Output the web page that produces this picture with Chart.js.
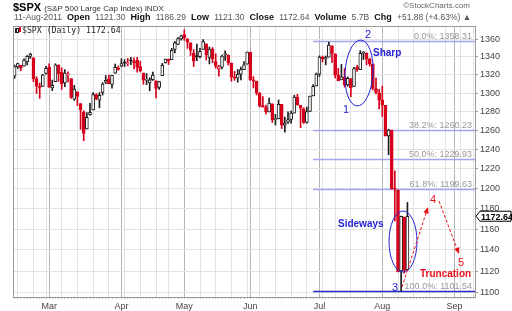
<!DOCTYPE html>
<html>
<head>
<meta charset="utf-8">
<script src="https://cdn.jsdelivr.net/npm/chart.js@4.4.1/dist/chart.umd.min.js"></script>
<style>
  html, body { margin: 0; padding: 0; background: #fff; }
  #wrap { width: 512px; height: 311px; }
</style>
</head>
<body>
<div id="wrap"><canvas id="chart" width="512" height="311"></canvas></div>
<script>
// trading days shown on the axis (data ends Aug 11, the rest is empty space)
const dates = [
  "2011-02-11","2011-02-14","2011-02-15","2011-02-16","2011-02-17","2011-02-18","2011-02-22","2011-02-23","2011-02-24","2011-02-25","2011-02-28",
  "2011-03-01","2011-03-02","2011-03-03","2011-03-04","2011-03-07","2011-03-08","2011-03-09","2011-03-10","2011-03-11","2011-03-14","2011-03-15","2011-03-16","2011-03-17","2011-03-18","2011-03-21","2011-03-22","2011-03-23","2011-03-24","2011-03-25","2011-03-28","2011-03-29","2011-03-30","2011-03-31",
  "2011-04-01","2011-04-04","2011-04-05","2011-04-06","2011-04-07","2011-04-08","2011-04-11","2011-04-12","2011-04-13","2011-04-14","2011-04-15","2011-04-18","2011-04-19","2011-04-20","2011-04-21","2011-04-25","2011-04-26","2011-04-27","2011-04-28","2011-04-29",
  "2011-05-02","2011-05-03","2011-05-04","2011-05-05","2011-05-06","2011-05-09","2011-05-10","2011-05-11","2011-05-12","2011-05-13","2011-05-16","2011-05-17","2011-05-18","2011-05-19","2011-05-20","2011-05-23","2011-05-24","2011-05-25","2011-05-26","2011-05-27","2011-05-31",
  "2011-06-01","2011-06-02","2011-06-03","2011-06-06","2011-06-07","2011-06-08","2011-06-09","2011-06-10","2011-06-13","2011-06-14","2011-06-15","2011-06-16","2011-06-17","2011-06-20","2011-06-21","2011-06-22","2011-06-23","2011-06-24","2011-06-27","2011-06-28","2011-06-29","2011-06-30",
  "2011-07-01","2011-07-05","2011-07-06","2011-07-07","2011-07-08","2011-07-11","2011-07-12","2011-07-13","2011-07-14","2011-07-15","2011-07-18","2011-07-19","2011-07-20","2011-07-21","2011-07-22","2011-07-25","2011-07-26","2011-07-27","2011-07-28","2011-07-29",
  "2011-08-01","2011-08-02","2011-08-03","2011-08-04","2011-08-05","2011-08-08","2011-08-09","2011-08-10","2011-08-11","2011-08-12","2011-08-15","2011-08-16","2011-08-17","2011-08-18","2011-08-19","2011-08-22","2011-08-23","2011-08-24","2011-08-25","2011-08-26","2011-08-29","2011-08-30","2011-08-31",
  "2011-09-01","2011-09-02","2011-09-06","2011-09-07","2011-09-08","2011-09-09","2011-09-12"
];

const opens = [
  1318.66,1328.73,1330.43,1329.51,1334.37,1340.38,1338.91,1315.44,1307.09,1307.34,1321.61,
  1328.64,1305.47,1312.37,1330.73,1322.72,1311.05,1319.92,1315.72,1293.43,1301.19,1288.46,1279.46,1261.61,1276.71,1281.65,1298.29,1292.19,1300.61,1311.80,1315.45,1309.37,1321.89,1327.44,
  1329.48,1333.56,1332.03,1335.94,1334.82,1336.16,1329.01,1321.96,1314.03,1311.13,1314.54,1313.35,1305.99,1319.12,1333.23,1337.14,1336.75,1348.43,1353.86,1360.14,
  1365.21,1359.76,1355.90,1344.16,1340.24,1340.20,1348.34,1354.51,1339.39,1348.69,1334.77,1326.10,1328.54,1342.40,1342.00,1333.07,1317.70,1316.36,1320.64,1325.69,1331.72,
  1345.20,1314.55,1312.94,1300.26,1286.31,1284.63,1279.63,1288.26,1271.31,1272.22,1287.87,1265.53,1268.58,1271.50,1278.40,1295.48,1286.60,1283.04,1268.44,1280.21,1296.85,1307.64,
  1320.64,1339.59,1337.56,1339.62,1352.39,1343.31,1319.61,1314.45,1317.74,1308.87,1315.94,1307.07,1328.66,1325.65,1343.80,1344.32,1337.39,1331.91,1304.84,1300.12,
  1292.59,1286.56,1254.25,1260.23,1200.28,1198.48,1120.23,1171.77,1121.30
];
const highs = [
  1330.79,1332.96,1330.43,1337.61,1341.50,1344.07,1338.91,1317.91,1310.91,1320.61,1329.38,
  1332.09,1314.19,1332.28,1331.08,1327.68,1325.74,1323.21,1315.72,1308.35,1301.19,1288.46,1280.91,1278.88,1288.88,1300.58,1299.35,1300.51,1311.34,1319.18,1319.74,1319.45,1331.74,1329.77,
  1337.85,1336.74,1338.21,1339.38,1338.80,1339.46,1335.11,1321.96,1321.35,1316.79,1322.88,1313.35,1312.70,1332.66,1337.49,1337.55,1349.55,1357.49,1361.71,1364.56,
  1370.58,1360.84,1355.90,1348.00,1354.36,1349.44,1359.44,1354.51,1351.05,1350.47,1343.33,1330.42,1341.82,1346.82,1342.00,1333.07,1323.72,1325.86,1328.51,1334.62,1345.20,
  1345.20,1318.03,1312.94,1300.26,1296.22,1287.04,1294.54,1288.26,1277.04,1292.50,1287.87,1274.11,1279.82,1280.42,1297.62,1298.61,1286.60,1283.93,1284.91,1296.80,1309.21,1321.97,
  1341.01,1340.89,1340.94,1356.48,1352.39,1343.31,1327.17,1331.48,1326.88,1317.70,1315.94,1328.14,1330.43,1347.00,1346.10,1344.32,1338.51,1331.91,1316.32,1304.16,
  1307.38,1286.56,1261.20,1260.23,1218.11,1198.48,1172.88,1171.77,1186.29
];
const lows = [
  1316.08,1326.90,1324.61,1329.51,1331.00,1338.12,1312.33,1299.55,1294.26,1307.34,1320.55,
  1306.14,1302.58,1312.37,1312.59,1303.99,1306.86,1312.27,1294.21,1291.99,1286.37,1261.12,1249.05,1261.61,1276.18,1281.65,1292.70,1284.05,1297.74,1310.15,1310.19,1305.26,1321.89,1325.03,
  1328.89,1329.10,1330.03,1331.09,1326.56,1322.94,1323.09,1309.51,1309.19,1302.42,1313.68,1294.70,1303.97,1319.12,1332.92,1331.47,1336.75,1344.25,1353.60,1358.69,
  1358.59,1349.52,1341.50,1329.17,1335.58,1338.64,1348.34,1336.36,1332.03,1333.36,1327.32,1318.51,1326.59,1336.03,1330.67,1312.88,1313.87,1311.80,1314.41,1325.69,1331.72,
  1313.71,1305.61,1297.90,1284.72,1284.74,1277.42,1279.63,1268.28,1265.64,1272.22,1261.90,1258.07,1267.40,1267.56,1278.40,1286.79,1262.87,1267.24,1267.53,1280.21,1296.85,1307.64,
  1318.18,1334.30,1330.92,1339.62,1333.71,1316.42,1313.33,1314.45,1306.51,1307.35,1295.92,1307.07,1323.65,1325.65,1336.95,1331.09,1329.59,1303.49,1299.16,1282.86,
  1274.73,1254.03,1234.56,1199.54,1168.09,1119.28,1101.54,1118.01,1121.30
];
const closes = [
  1329.15,1332.32,1328.01,1336.32,1340.43,1343.01,1315.44,1307.40,1306.10,1319.88,1327.22,
  1306.33,1308.44,1330.97,1321.15,1310.13,1321.82,1320.02,1295.11,1304.28,1296.39,1281.87,1256.88,1273.72,1279.21,1298.38,1293.77,1297.54,1309.66,1313.80,1310.19,1319.44,1328.26,1325.83,
  1332.41,1332.87,1332.63,1335.54,1333.51,1328.17,1324.46,1314.16,1314.41,1314.52,1319.68,1305.14,1312.62,1330.36,1337.38,1335.25,1347.24,1355.66,1360.48,1363.61,
  1361.22,1356.62,1347.32,1335.10,1340.20,1346.29,1357.16,1342.08,1348.65,1337.77,1329.47,1328.98,1340.68,1343.60,1333.27,1317.37,1316.28,1320.47,1325.69,1331.10,1345.20,
  1314.55,1312.94,1300.16,1286.17,1284.94,1279.56,1289.00,1270.98,1271.83,1287.87,1265.42,1267.64,1271.50,1278.36,1295.52,1287.14,1283.50,1268.45,1280.10,1296.67,1307.41,1320.64,
  1339.67,1337.88,1339.22,1353.22,1343.80,1319.49,1313.64,1317.72,1308.87,1316.14,1305.44,1326.73,1325.84,1343.80,1345.02,1337.43,1331.94,1304.89,1300.67,1292.28,
  1286.94,1254.05,1260.34,1200.07,1199.38,1119.46,1172.53,1120.76,1172.64
];

const monthNames = ["Jan","Feb","Mar","Apr","May","Jun","Jul","Aug","Sep","Oct","Nov","Dec"];
const yTicks = [1100,1120,1140,1160,1180,1200,1220,1240,1260,1280,1300,1320,1340,1360];

// fibonacci retracement levels
const fibLabels = ["0.0%","38.2%","50.0%","61.8%","100.0%"];
const fibValues = [1358.31,1260.23,1229.93,1199.63,1101.54];
const fibStart = "2011-06-29";

const lastClose = 1172.64;

const RED = "#d6001c";
const BLACK = "#1e1e1e";
const BLUE = "#2323d8";

// stockcharts style: colour by close vs previous close, hollow when close > open
const candleColor = closes.map((c, i) => (c >= (i ? closes[i - 1] : opens[i]) ? BLACK : RED));
const bodyFill = closes.map((c, i) => (c > opens[i] ? "#fff" : candleColor[i]));
const bodyData = dates.map((d, i) =>
  i < closes.length ? [Math.min(opens[i], closes[i]), Math.max(opens[i], closes[i])] : null
);
const wickData = dates.map((d, i) => (i < closes.length ? [lows[i], highs[i]] : null));

const dayInfo = dates.map((d, i) => {
  const dt = new Date(d + "T12:00:00Z");
  const prev = i ? new Date(dates[i - 1] + "T12:00:00Z") : null;
  return {
    month: dt.getUTCMonth(),
    monthStart: !!prev && dt.getUTCMonth() !== prev.getUTCMonth(),
    weekStart: !!prev && dt.getUTCDay() < prev.getUTCDay(),
  };
});

const drawText = (ctx, txt, x, y, font, color, align) => {
  ctx.font = font;
  ctx.fillStyle = color;
  ctx.textAlign = align || "left";
  ctx.textBaseline = "alphabetic";
  ctx.fillText(txt, x, y);
  return x + ctx.measureText(txt).width;
};

const arrow = (ctx, x1, y1, x2, y2, color) => {
  const ang = Math.atan2(y2 - y1, x2 - x1);
  ctx.save();
  ctx.strokeStyle = color;
  ctx.lineWidth = 1;
  ctx.setLineDash([3, 2]);
  ctx.beginPath();
  ctx.moveTo(x1, y1);
  ctx.lineTo(x2 - 5 * Math.cos(ang), y2 - 5 * Math.sin(ang));
  ctx.stroke();
  ctx.setLineDash([]);
  ctx.fillStyle = color;
  ctx.beginPath();
  ctx.moveTo(x2, y2);
  ctx.lineTo(x2 - 7 * Math.cos(ang - 0.4), y2 - 7 * Math.sin(ang - 0.4));
  ctx.lineTo(x2 - 7 * Math.cos(ang + 0.4), y2 - 7 * Math.sin(ang + 0.4));
  ctx.closePath();
  ctx.fill();
  ctx.restore();
};

const overlay = {
  id: "overlay",
  beforeDatasetsDraw(chart) {
    const { ctx, chartArea, scales } = chart;
    const x0 = scales.x.getPixelForValue(dates.indexOf(fibStart));
    ctx.save();
    fibValues.forEach((v, i) => {
      const y = Math.round(scales.y.getPixelForValue(v)) + 0.5;
      ctx.strokeStyle = i === fibValues.length - 1 ? "#2a2ac8" : "#a4a4f0";
      ctx.lineWidth = 1.5;
      ctx.beginPath();
      ctx.moveTo(x0, y);
      ctx.lineTo(chartArea.right, y);
      ctx.stroke();
      drawText(ctx, fibLabels[i] + ": " + v.toFixed(2), chartArea.right - 3, y - 2.5,
        "9px 'Liberation Sans', Arial", "#999", "right");
    });
    ctx.restore();
  },
  afterDatasetsDraw(chart) {
    const { ctx } = chart;
    ctx.save();
    ctx.strokeStyle = BLUE;
    ctx.lineWidth = 1;
    ctx.beginPath();
    ctx.ellipse(359, 73, 14, 33, 0.06, 0, Math.PI * 2);
    ctx.stroke();
    ctx.beginPath();
    ctx.ellipse(403, 241.5, 14, 30.5, 0, 0, Math.PI * 2);
    ctx.stroke();

    const num = "11px 'Liberation Sans', Arial";
    const lbl = "bold 10px 'Liberation Sans', Arial";
    drawText(ctx, "2", 365, 38, num, BLUE);
    drawText(ctx, "Sharp", 373, 56, lbl, BLUE);
    drawText(ctx, "1", 343, 113, num, BLUE);
    drawText(ctx, "Sideways", 338, 227, lbl, BLUE);
    drawText(ctx, "3", 392, 291, num, BLUE);

    arrow(ctx, 402, 287, 428, 207, "#e8101a");
    arrow(ctx, 439, 201, 459, 254, "#e8101a");
    drawText(ctx, "4", 430, 203, num, "#e8101a");
    drawText(ctx, "5", 458, 266, num, "#e8101a");
    drawText(ctx, "Truncation", 420, 277, lbl, "#e8101a");
    ctx.restore();
  },
  afterDraw(chart) {
    const { ctx, chartArea, scales } = chart;
    ctx.save();
    // plot frame
    ctx.strokeStyle = "#9a9a9a";
    ctx.lineWidth = 1;
    ctx.strokeRect(Math.round(chartArea.left) + 0.5, Math.round(chartArea.top) + 0.5,
      Math.round(chartArea.width), Math.round(chartArea.height));

    // title rows
    const F = "'Liberation Sans', Arial";
    let x = drawText(ctx, "$SPX", 13, 11, "bold 11px " + F, "#000");
    drawText(ctx, "(S&P 500 Large Cap Index) INDX", x + 3, 11, "8px " + F, "#333");
    drawText(ctx, "\u00A9StockCharts.com", 470, 8, "8px " + F, "#666", "right");

    const parts = [
      ["11-Aug-2011", false], ["Open", true], ["1121.30", false], ["High", true], ["1186.29", false],
      ["Low", true], ["1121.30", false], ["Close", true], ["1172.64", false], ["Volume", true],
      ["5.7B", false], ["Chg", true], ["+51.88 (+4.63%) \u25B2", false],
    ];
    x = 14;
    parts.forEach(([t, b]) => {
      x = drawText(ctx, t, x, 20, (b ? "bold 9px " : "8.5px ") + F, b ? "#111" : "#555") + 5.2;
    });

    // legend inside plot
    ctx.fillStyle = BLACK;
    ctx.fillRect(15, 28, 1, 5);
    ctx.strokeStyle = BLACK;
    ctx.strokeRect(16.5, 28.5, 2, 4);
    ctx.fillStyle = RED;
    ctx.fillRect(19, 27, 2, 5);
    drawText(ctx, "$SPX (Daily) 1172.64", 22, 33, "8.2px 'DejaVu Sans Mono', monospace", "#222");

    // last price tag
    const yl = scales.y.getPixelForValue(lastClose);
    const xr = chartArea.right + 1;
    ctx.beginPath();
    ctx.moveTo(xr, yl);
    ctx.lineTo(xr + 4, yl - 5);
    ctx.lineTo(511, yl - 5);
    ctx.lineTo(511, yl + 5);
    ctx.lineTo(xr + 4, yl + 5);
    ctx.closePath();
    ctx.fillStyle = "#fff";
    ctx.fill();
    ctx.strokeStyle = "#000";
    ctx.stroke();
    drawText(ctx, lastClose.toFixed(2), xr + 5, yl + 3.5, "bold 9px " + F, "#000");
    ctx.restore();
  },
};

Chart.defaults.font.family = "'Liberation Sans', Arial, sans-serif";

new Chart(document.getElementById("chart"), {
  type: "bar",
  data: {
    labels: dates,
    datasets: [
      {
        label: "body",
        data: bodyData,
        backgroundColor: bodyFill,
        borderColor: candleColor,
        borderWidth: 1,
        borderSkipped: false,
        barThickness: 3,
        minBarLength: 1,
        grouped: false,
      },
      {
        label: "wick",
        data: wickData,
        backgroundColor: candleColor,
        barThickness: 1,
        grouped: false,
      },
    ],
  },
  options: {
    responsive: false,
    animation: false,
    layout: { padding: { left: 13, top: 26, right: 0, bottom: 0 } },
    plugins: {
      legend: { display: false },
      tooltip: { enabled: false },
    },
    scales: {
      x: {
        offset: true,
        grid: {
          offset: false,
          color: (c) => {
            const d = dayInfo[c.index];
            if (!d) return "rgba(0,0,0,0)";
            if (d.monthStart) return "#b4b4b4";
            if (d.weekStart) return "#e2e2e2";
            return "rgba(0,0,0,0)";
          },
          tickLength: 2,
          tickColor: "#c4c4c4",
        },
        border: { color: "#9a9a9a" },
        ticks: {
          autoSkip: false,
          maxRotation: 0,
          padding: 2,
          color: "#444",
          font: { size: 9 },
          callback: (v, i) => (dayInfo[i].monthStart ? monthNames[dayInfo[i].month] : ""),
        },
        afterFit: (s) => {
          s.height = 14;
        },
      },
      y: {
        type: "logarithmic",
        position: "right",
        min: 1096,
        max: 1375,
        afterBuildTicks: (s) => {
          s.ticks = yTicks.map((v) => ({ value: v }));
        },
        grid: { color: "#e2e2e2", tickLength: 3, tickColor: "#9a9a9a" },
        border: { color: "#9a9a9a" },
        ticks: {
          padding: 2,
          color: "#444",
          font: { size: 9 },
          callback: (v) => String(v),
        },
        afterFit: (s) => {
          s.width = 37;
        },
      },
    },
  },
  plugins: [overlay],
});
</script>
</body>
</html>
